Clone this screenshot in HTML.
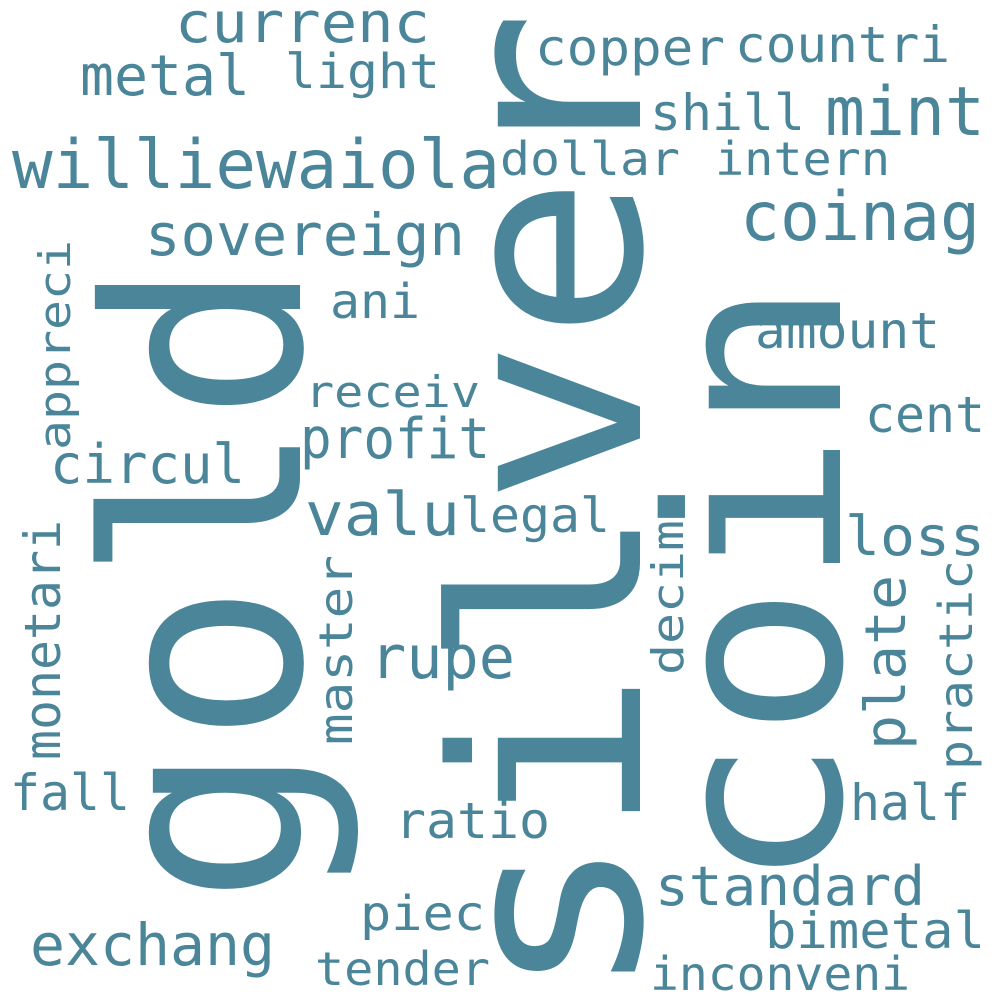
<!DOCTYPE html>
<html><head><meta charset="utf-8"><style>
html,body{margin:0;padding:0;background:#fff;width:1000px;height:1000px;overflow:hidden}
svg text{font-family:"DejaVu Sans Mono","Liberation Mono",monospace;fill:#4a8599}
</style></head><body>
<svg id="cloud" width="1000" height="1000" viewBox="0 0 1000 1000"></svg>
<script>
// word, x(left or baseline x for vertical), y(baseline or bottom y for vertical), length, font size, vertical flag
const words=["silver","gold","coin","williewaiola","currenc","metal","light","sovereign","copper","countri","shill","mint","dollar","intern","coinag","ani","amount","receiv","profit","cent","circul","valu","legal","loss","rupe","fall","ratio","half","standard","piec","bimetal","exchang","tender","inconveni","appreci","monetari","master","decim","plate","practic"];
const sizes=[260,270,240,68,56,56,48,58,50,50,50,68,46,46,68,48,50,44,56,50,54,60,48,54,60,50,50,50,54,48,50,58,46,46,44,50,46,44,56,46];
const layout=[[640,1000,990,1],[300,905,645,1],[840,890,610,1],[12,188,488,0],[175,42,255,0],[80,95,170,0],[285,88,155,0],[145,255,320,0],[535,65,190,0],[735,62,215,0],[650,130,155,0],[825,135,160,0],[500,175,180,0],[715,175,175,0],[740,240,240,0],[330,318,90,0],[755,348,185,0],[305,407,175,0],[300,458,190,0],[865,432,120,0],[50,483,195,0],[305,535,155,0],[460,532,150,0],[845,555,140,0],[370,678,145,0],[10,810,120,0],[395,838,155,0],[850,820,120,0],[655,905,270,0],[360,930,125,0],[765,948,220,0],[30,965,245,0],[315,985,175,0],[650,990,260,0],[70,450,210,1],[60,760,240,1],[352,745,190,1],[683,675,155,1],[905,750,175,1],[972,770,210,1]];
const svg=document.getElementById('cloud');
const NS='http://www.w3.org/2000/svg';
words.forEach((w,i)=>{
  const [x,y,len,vert]=layout[i];
  const t=document.createElementNS(NS,'text');
  t.textContent=w;
  t.setAttribute('font-size',sizes[i]);
  t.setAttribute('textLength',len);
  t.setAttribute('lengthAdjust','spacingAndGlyphs');
  if(vert){t.setAttribute('transform','translate('+x+','+y+') rotate(-90)');t.setAttribute('x',0);t.setAttribute('y',0);}
  else{t.setAttribute('x',x);t.setAttribute('y',y);}
  
  
  svg.appendChild(t);
});
</script>
</body></html>
